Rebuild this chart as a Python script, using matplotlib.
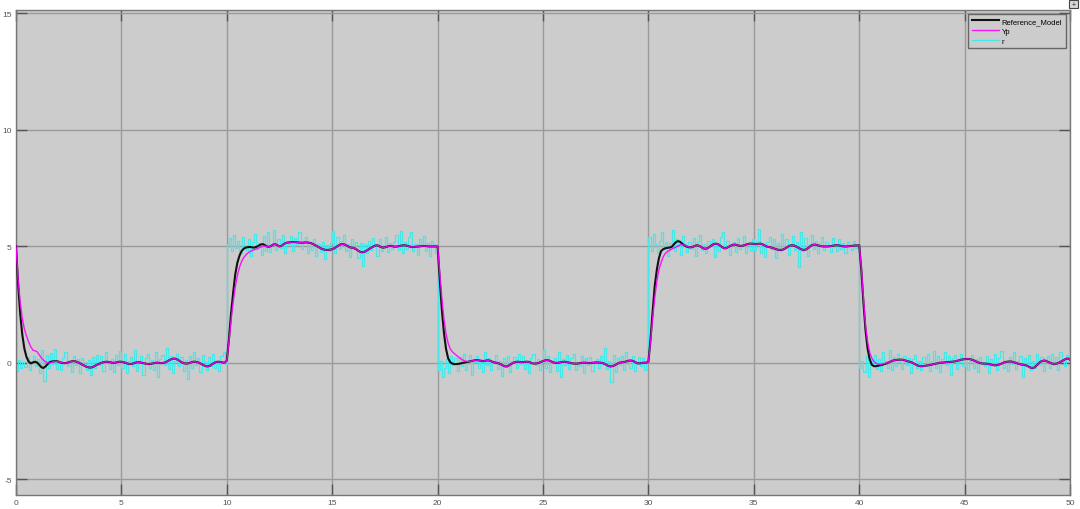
import numpy as np
import matplotlib
matplotlib.use('Agg')
import matplotlib.pyplot as plt
from matplotlib.patches import Rectangle

plt.rcParams['font.family'] = ['Liberation Sans', 'DejaVu Sans']
plt.rcParams['axes.unicode_minus'] = False

# 采样：0.1 s 一个点，0 ~ 50 s
dt = 0.1
n_pts = 501

# 参考输入 r 的方波电平（每段 10 s）
seg_levels = [0, 5, 0, 5, 0]

# r 的噪声（读图估计，每行 1 s）
r_noise = [
    -0.35, 0.12, -0.22, 0.05, -0.18, 0.25, -0.32, 0.08, 0.3, -0.12,
    0.18, -0.42, 0.55, -0.78, 0.35, -0.2, 0.42, -0.05, 0.6, -0.25,
    0.1, -0.3, 0.22, 0.48, -0.15, 0.05, -0.38, 0.3, -0.1, 0.15,
    -0.45, 0.2, -0.05, -0.3, 0.12, -0.5, 0.25, -0.2, 0.35, -0.1,
    0.28, -0.35, 0.45, 0.05, -0.25, 0.15, -0.4, 0.32, -0.08, 0.5,
    -0.2, 0.38, -0.45, 0.1, 0.25, -0.15, 0.55, -0.35, 0.05, 0.3,
    -0.5, 0.2, 0.4, -0.2, 0.12, -0.3, 0.48, -0.6, 0.15, 0.35,
    -0.1, 0.62, -0.25, 0.3, -0.45, 0.08, 0.4, -0.15, 0.25, -0.35,
    0.12, -0.68, 0.3, -0.2, 0.45, -0.1, 0.2, -0.4, 0.35, 0.05,
    -0.3, 0.25, -0.15, 0.4, -0.2, 0.1, -0.35, 0.3, 0.45, -0.05,
    # 10 - 20
    0.1, 0.35, -0.2, 0.5, -0.05, 0.25, -0.3, 0.4, 0.05, -0.15,
    0.3, -0.4, 0.2, 0.55, -0.1, 0.15, -0.35, 0.45, -0.2, 0.6,
    -0.25, 0.1, 0.7, -0.15, 0.3, -0.05, 0.5, -0.3, 0.2, 0.1,
    0.45, -0.2, 0.35, 0.05, 0.6, -0.1, 0.25, 0.4, -0.3, 0.2,
    -0.15, 0.3, -0.4, 0.1, -0.25, 0.2, -0.55, 0.05, -0.2, 0.15,
    0.65, -0.3, 0.4, -0.1, 0.25, 0.5, -0.2, 0.1, -0.45, 0.3,
    -0.1, 0.2, -0.5, 0.15, -0.85, 0.1, -0.3, 0.25, -0.15, 0.35,
    0.1, -0.4, 0.3, -0.2, 0.05, 0.4, -0.25, 0.15, -0.1, 0.2,
    0.5, -0.15, 0.65, -0.3, 0.2, -0.1, 0.4, 0.6, -0.2, 0.1,
    -0.35, 0.3, 0.05, 0.45, -0.2, 0.15, -0.4, 0.25, 0.1, -0.3,
    # 20 - 30
    -0.3, 0.1, -0.6, -0.2, 0.15, -0.45, 0.3, -0.1, 0.2, -0.35,
    0.25, -0.15, 0.4, -0.3, 0.1, 0.35, -0.5, 0.05, 0.3, -0.2,
    0.15, -0.4, 0.45, -0.1, 0.2, -0.3, 0.05, 0.35, -0.25, 0.1,
    -0.55, 0.2, -0.15, 0.3, -0.4, 0.1, 0.25, -0.2, 0.4, -0.05,
    0.3, -0.25, 0.1, -0.45, 0.2, 0.4, -0.1, 0.15, -0.3, 0.05,
    0.55, -0.2, 0.3, -0.4, 0.1, 0.2, -0.35, 0.45, -0.6, 0.15,
    -0.1, 0.35, -0.25, 0.2, 0.4, -0.3, 0.05, -0.15, 0.3, -0.45,
    0.2, -0.1, 0.25, -0.35, 0.05, 0.15, -0.2, 0.3, -0.05, 0.65,
    -0.25, 0.1, -0.8, 0.35, -0.4, 0.2, -0.1, 0.3, -0.3, 0.45,
    0.1, -0.2, 0.3, -0.35, 0.05, 0.25, -0.15, 0.2, -0.3, 0.1,
    # 30 - 40
    0.4, -0.2, 0.55, 0.1, -0.3, 0.25, 0.6, -0.1, 0.2, -0.4,
    0.15, 0.7, -0.2, 0.3, 0.05, -0.35, 0.45, 0.1, -0.25, 0.2,
    -0.1, 0.35, -0.4, 0.2, 0.5, -0.15, 0.1, -0.3, 0.25, 0.05,
    0.3, -0.45, 0.15, -0.2, 0.4, 0.6, -0.1, 0.25, -0.35, 0.1,
    0.2, -0.25, 0.35, -0.1, 0.05, 0.45, -0.3, 0.15, -0.2, 0.3,
    -0.15, 0.25, 0.75, -0.3, 0.1, -0.45, 0.2, 0.4, -0.1, 0.3,
    -0.5, 0.15, -0.2, 0.55, -0.05, 0.3, -0.35, 0.1, 0.45, -0.15,
    0.2, -0.9, 0.6, -0.2, 0.35, -0.4, 0.1, 0.5, -0.1, 0.25,
    -0.3, 0.15, 0.4, -0.15, 0.2, 0.05, -0.25, 0.35, 0.1, -0.2,
    0.3, -0.1, 0.15, -0.3, 0.2, 0.05, -0.15, 0.25, -0.05, 0.1,
    # 40 - 50
    -0.2, 0.1, -0.4, 0.3, -0.6, 0.2, -0.1, 0.35, -0.25, 0.15,
    -0.35, 0.45, 0.1, -0.2, 0.55, -0.3, 0.25, -0.15, 0.4, 0.05,
    -0.25, 0.3, -0.1, 0.2, -0.45, 0.15, 0.35, -0.2, 0.1, -0.3,
    0.25, -0.15, 0.4, -0.35, 0.1, 0.5, -0.2, 0.3, -0.4, 0.15,
    0.45, -0.1, 0.3, -0.5, 0.2, 0.35, -0.25, 0.05, 0.4, -0.15,
    0.2, -0.3, 0.1, 0.35, -0.2, 0.15, -0.4, 0.25, 0.05, -0.15,
    0.3, -0.45, 0.15, -0.1, 0.4, -0.3, 0.2, 0.5, -0.2, 0.1,
    -0.35, 0.25, -0.05, 0.45, -0.25, 0.1, 0.3, -0.6, 0.2, -0.15,
    0.35, -0.3, 0.1, -0.2, 0.4, -0.1, 0.25, -0.35, 0.15, 0.3,
    -0.2, 0.4, -0.1, 0.25, -0.3, 0.45, 0.1, -0.15, 0.35, 0.2,
    0.1,
]

# Reference_Model 输出（读图估计，每行 1 s）
ref_model = [
    5.0, 3.4, 2.1, 1.2, 0.6, 0.25, 0.06, -0.02, 0.02, 0.05,
    0.02, -0.08, -0.18, -0.22, -0.15, -0.05, 0.03, 0.06, 0.07, 0.08,
    0.06, 0.02, 0.0, -0.01, 0.0, 0.03, 0.06, 0.08, 0.07, 0.04,
    0.0, -0.05, -0.1, -0.15, -0.18, -0.2, -0.19, -0.15, -0.1, -0.05,
    -0.02, 0.02, 0.04, 0.05, 0.04, 0.02, 0.0, 0.01, 0.03, 0.05,
    0.05, 0.03, 0.0, -0.03, -0.05, -0.04, -0.01, 0.02, 0.03, 0.02,
    0.0, -0.02, -0.04, -0.05, -0.04, -0.02, 0.0, 0.01, 0.0, -0.01,
    0.0, 0.03, 0.08, 0.13, 0.17, 0.19, 0.17, 0.12, 0.06, 0.01,
    -0.02, -0.03, -0.01, 0.02, 0.05, 0.05, 0.03, 0.0, -0.05, -0.1,
    -0.14, -0.15, -0.12, -0.06, 0.0, 0.04, 0.05, 0.04, 0.02, 0.01,
    # 10 - 20
    0.1, 1.0, 2.1, 3.0, 3.8, 4.3, 4.6, 4.8, 4.9, 4.95,
    4.97, 4.98, 4.96, 4.95, 4.98, 5.03, 5.08, 5.1, 5.06, 5.0,
    4.98, 5.02, 5.08, 5.1, 5.05, 5.0, 5.03, 5.1, 5.15, 5.17,
    5.18, 5.19, 5.19, 5.18, 5.17, 5.16, 5.16, 5.17, 5.17, 5.16,
    5.14, 5.1, 5.05, 5.0, 4.95, 4.9, 4.87, 4.85, 4.85, 4.86,
    4.88, 4.92, 4.98, 5.04, 5.09, 5.1, 5.08, 5.03, 4.98, 4.95,
    4.94, 4.9, 4.84, 4.78, 4.75, 4.76, 4.8, 4.86, 4.92, 4.97,
    5.02, 5.05, 5.03, 4.98, 4.95, 4.96, 4.99, 5.02, 5.02, 5.0,
    4.99, 5.0, 5.02, 5.04, 5.05, 5.04, 5.02, 4.99, 4.97, 4.98,
    4.99, 5.0, 5.01, 5.02, 5.02, 5.01, 5.0, 5.0, 5.0, 5.0,
    # 20 - 30
    5.0, 3.6, 2.3, 1.3, 0.6, 0.2, 0.03, -0.03, -0.05, -0.05,
    -0.04, -0.02, 0.0, 0.02, 0.04, 0.06, 0.08, 0.1, 0.12, 0.12,
    0.1, 0.08, 0.08, 0.1, 0.11, 0.09, 0.05, 0.02, 0.0, -0.02,
    -0.06, -0.11, -0.15, -0.15, -0.1, -0.04, 0.01, 0.04, 0.05, 0.04,
    0.03, 0.04, 0.05, 0.05, 0.02, -0.02, -0.03, -0.02, 0.0, 0.04,
    0.08, 0.11, 0.12, 0.1, 0.06, 0.02, 0.0, 0.0, 0.02, 0.04,
    0.05, 0.04, 0.02, 0.0, -0.02, -0.03, -0.03, -0.02, 0.0, 0.01,
    0.01, 0.0, -0.01, 0.0, 0.01, 0.02, 0.02, 0.01, 0.0, -0.03,
    -0.08, -0.13, -0.15, -0.14, -0.1, -0.05, 0.0, 0.02, 0.03, 0.05,
    0.08, 0.1, 0.1, 0.07, 0.02, -0.02, -0.02, 0.0, 0.01, 0.01,
    # 30 - 40
    0.05, 1.0, 2.2, 3.3, 4.0, 4.5, 4.8, 4.88, 4.92, 4.94,
    4.95, 4.98, 5.08, 5.18, 5.23, 5.2, 5.12, 5.05, 5.0, 4.97,
    4.96, 4.98, 5.02, 5.05, 5.03, 4.98, 4.92, 4.9, 4.92, 4.98,
    5.05, 5.1, 5.12, 5.1, 5.04, 4.97, 4.92, 4.93, 4.98, 5.03,
    5.07, 5.08, 5.06, 5.03, 5.02, 5.04, 5.07, 5.1, 5.12, 5.12,
    5.11, 5.1, 5.11, 5.12, 5.1, 5.05, 5.0, 4.98, 4.96, 4.93,
    4.9, 4.87, 4.85, 4.85, 4.87, 4.92, 4.98, 5.03, 5.05, 5.04,
    5.0, 4.95, 4.9, 4.86, 4.85, 4.88, 4.95, 5.02, 5.07, 5.08,
    5.06, 5.03, 5.01, 5.0, 5.0, 5.0, 5.01, 5.02, 5.04, 5.05,
    5.05, 5.03, 5.01, 5.0, 5.0, 5.01, 5.02, 5.03, 5.04, 5.04,
    # 40 - 50
    5.05, 4.0, 2.6, 1.4, 0.6, 0.15, -0.08, -0.14, -0.14, -0.12,
    -0.1, -0.08, -0.05, -0.02, 0.02, 0.06, 0.1, 0.12, 0.13, 0.14,
    0.14, 0.13, 0.1, 0.07, 0.05, 0.02, -0.03, -0.08, -0.12, -0.14,
    -0.14, -0.13, -0.11, -0.1, -0.08, -0.06, -0.04, -0.02, 0.0, 0.01,
    0.02, 0.03, 0.04, 0.04, 0.05, 0.06, 0.08, 0.1, 0.13, 0.15,
    0.16, 0.17, 0.17, 0.15, 0.12, 0.08, 0.04, 0.0, -0.02, -0.03,
    -0.03, -0.04, -0.06, -0.08, -0.1, -0.1, -0.08, -0.05, -0.01, 0.03,
    0.05, 0.06, 0.06, 0.04, 0.01, -0.02, -0.05, -0.07, -0.08, -0.1,
    -0.14, -0.19, -0.22, -0.2, -0.12, -0.03, 0.05, 0.09, 0.1, 0.07,
    0.03, -0.01, -0.04, -0.04, -0.02, 0.02, 0.07, 0.12, 0.17, 0.19,
    0.14,
]

# Yp：稳态段与参考模型重合，只有跳变后 2 s 不同
yp_start_times = [0, 10, 20, 30, 40]
yp_transients = [
    [5.0, 3.6, 2.6, 1.9, 1.45, 1.15, 0.9, 0.7, 0.55, 0.52,
     0.48, 0.35, 0.22, 0.12, 0.05, 0.0, 0.0, 0.03, 0.06, 0.07],
    [0.1, 0.9, 1.8, 2.6, 3.25, 3.75, 4.1, 4.35, 4.52, 4.63,
     4.72, 4.78, 4.83, 4.86, 4.89, 4.93, 4.97, 5.0, 5.02, 5.0],
    [5.0, 3.9, 2.8, 1.9, 1.25, 0.85, 0.6, 0.48, 0.4, 0.32,
     0.25, 0.18, 0.12, 0.08, 0.06, 0.06, 0.08, 0.1, 0.12, 0.12],
    [0.05, 0.9, 1.9, 2.8, 3.5, 4.0, 4.3, 4.55, 4.7, 4.78,
     4.83, 4.88, 4.93, 4.97, 5.02, 5.06, 5.08, 5.06, 5.02, 4.98],
    [5.05, 4.1, 2.8, 1.6, 0.9, 0.45, 0.2, 0.06, -0.02, -0.05,
     -0.06, -0.05, -0.03, -0.01, 0.02, 0.06, 0.1, 0.12, 0.13, 0.14],
]

x_ticks = [0, 5, 10, 15, 20, 25, 30, 35, 40, 45, 50]
y_ticks = [-5, 0, 5, 10, 15]

t = np.arange(n_pts) * dt
level = np.repeat(seg_levels, 100).astype(float)
level = np.append(level, seg_levels[-1])
r = level + np.array(r_noise)
ref = np.array(ref_model)
yp = ref.copy()
for t0, vals in zip(yp_start_times, yp_transients):
    i0 = int(round(t0 / dt))
    yp[i0:i0 + len(vals)] = vals

fig = plt.figure(figsize=(10.8, 5.1), dpi=100)
fig.patch.set_facecolor('white')
ax = fig.add_axes([16 / 1080, 1 - 496 / 510, 1054 / 1080, 485 / 510])
ax.set_facecolor('#cccccc')

# r 画在最下层，两条平滑曲线盖在上面
ax.plot(t, r, color='#48e6e6', linewidth=0.9, drawstyle='steps-post',
        label='r', zorder=2)
ax.plot(t, ref, color='#111111', linewidth=1.5, label='Reference_Model', zorder=3)
ax.plot(t, yp, color='#ff00ff', linewidth=1.0, alpha=0.9, label='Yp', zorder=4)

ax.set_xlim(0, 50)
ax.set_ylim(-5.67, 15.15)
ax.set_xticks(x_ticks)
ax.set_yticks(y_ticks)
ax.grid(True, color='#9a9a9a', linewidth=1.0)
ax.set_axisbelow(True)
ax.tick_params(direction='in', length=8, width=1.0, color='#555555',
               labelsize=6, labelcolor='#555555', top=True, right=True, pad=3)
for sp in ax.spines.values():
    sp.set_color('#777777')
    sp.set_linewidth(1.0)

h, l = ax.get_legend_handles_labels()
order = [1, 2, 0]
leg = ax.legend([h[i] for i in order], [l[i] for i in order],
                loc='upper right', fontsize=5.5, frameon=True, fancybox=False,
                borderaxespad=0.55, handlelength=3.6, labelspacing=0.35,
                borderpad=0.45, handletextpad=0.35)
leg.get_frame().set_facecolor('#cccccc')
leg.get_frame().set_edgecolor('#666666')
leg.get_frame().set_linewidth(1.0)
leg.get_frame().set_alpha(1.0)

# 右上角的小按钮
fig.patches.append(Rectangle((1069 / 1080, 1 - 9 / 510), 9 / 1080, 8 / 510,
                             transform=fig.transFigure, facecolor='#d8d8d8',
                             edgecolor='#444444', linewidth=0.8))
fig.text(1073.5 / 1080, 1 - 5 / 510, '+', fontsize=5, ha='center', va='center', color='#222222')

fig.savefig('out.png', dpi=100)
